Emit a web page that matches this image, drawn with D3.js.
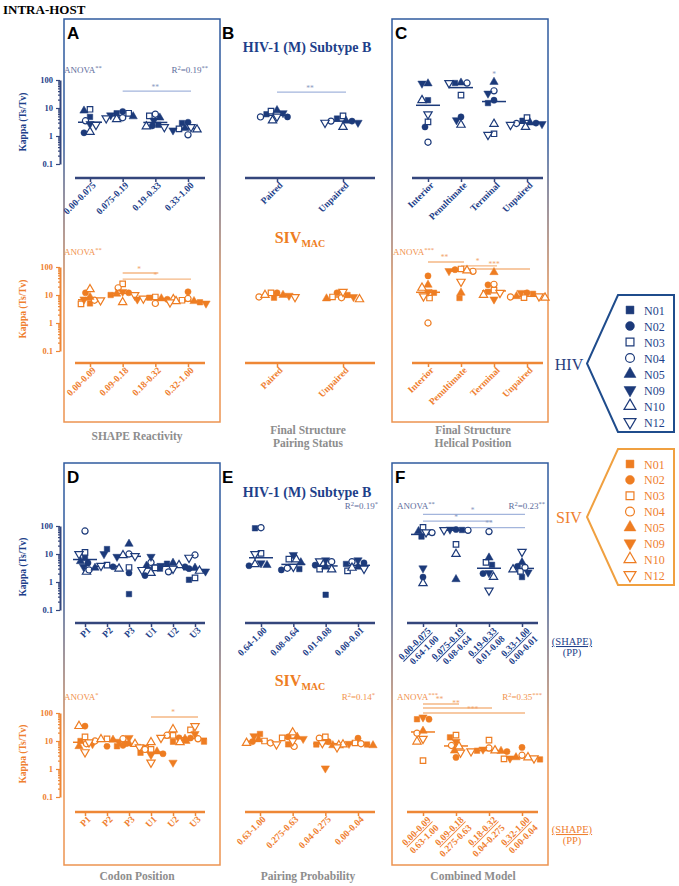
<!DOCTYPE html>
<html>
<head>
<meta charset="utf-8">
<script src="https://cdn.jsdelivr.net/npm/d3@7"></script>
<style>
  body { margin: 0; background: #fff; }
  svg { display: block; }
</style>
</head>
<body>
<svg id="chart" width="679" height="886"></svg>
<script>
// every group lists kappa per patient in this order
const patients = ["N01", "N02", "N03", "N04", "N05", "N09", "N10", "N12"];

// A - SHAPE reactivity
const hivShapeCats = ["0.00-0.075", "0.075-0.19", "0.19-0.33", "0.33-1.00"];
const hivShapeKappa = [
  [4.8, 1.3, 9, 3.5, 8, 2.7, 1.4, 2.5],
  [6.5, 7.5, 6.5, 4.5, 5, 5.5, 4, 4.3],
  [2.5, 2.3, 5.2, 6, 4.5, 3.6, 2.2, 2.1],
  [2.9, 3.1, 1.8, 1.1, 1.9, 1.6, 1.7, 2.1]
];
const sivShapeCats = ["0.00-0.09", "0.09-0.18", "0.18-0.32", "0.32-1.00"];
const sivShapeKappa = [
  [5, 12, 4.8, 6.5, 8.5, 7, 16, 6.5],
  [10, 12, 25, 18, 11, 13, 5.5, 10],
  [8, 7, 8.5, 5, 7.5, 7, 7, 7.5],
  [5.5, 13, 6.5, 7.5, 6, 5, 6, 5.5]
];

// B - pairing status
const pairCats = ["Paired", "Unpaired"];
const hivPairKappa = [
  [6, 4.8, 7.8, 4.8, 8.3, 6.6, 3.6, 5],
  [4.2, 3.4, 5.2, 3.4, 3.5, 3, 2.1, 3]
];
const sivPairKappa = [
  [8, 12, 12, 8.5, 10, 9.5, 10, 8.5],
  [10, 12, 8.5, 8, 7.5, 8.5, 7, 13]
];

// C - helical position
const helixCats = ["Interior", "Penultimate", "Terminal", "Unpaired"];
const hivHelixKappa = [
  [19, 2.1, 3.2, 0.6, 75, 75, 19, 6],
  [78, 4.8, 29, 78, 80, 3.7, 2.5, 78],
  [15, 19, 1.2, 41, 85, 33, 2.7, 1.1],
  [3.5, 2.9, 4.5, 2.8, 3, 2.7, 2.1, 2.5]
];
const sivHelixKappa = [
  [12, 48, 7.8, 1, 23, 13, 18, 9],
  [7.8, 80, 85, 70, 12, 72, 75, 30],
  [13, 23, 15, 24, 65, 7, 10, 12],
  [11, 12, 8, 8.5, 9, 12, 8, 9]
];

// D - codon position
const codonCats = ["P1", "P2", "P3", "U1", "U2", "U3"];
const hivCodonKappa = [
  [7.2, 4.8, 11.5, 66, 5.5, 3.5, 2.3, 10],
  [15, 3.5, 4, 2.7, 3.2, 10, 3, 3.8],
  [0.37, 2.1, 3.3, 10, 23, 8, 9, 8.5],
  [3, 1.7, 3.3, 5, 3.8, 8, 2.1, 2.7],
  [4.5, 3.5, 3.2, 2.3, 4.8, 3.8, 4, 3],
  [1.2, 3, 1.4, 9.2, 3.2, 2.4, 2.5, 7.4]
];
const sivCodonKappa = [
  [10, 34, 14, 8, 6.5, 7.8, 34, 4],
  [8, 6.5, 12, 10, 11, 9.5, 11.5, 9],
  [6.5, 7, 5.6, 12, 8, 13, 7.8, 6],
  [3.8, 3.5, 5, 5, 4.2, 3.2, 9, 1.7],
  [9.4, 13, 16, 16, 12, 1.7, 26, 13],
  [9.5, 12.8, 25, 12, 10, 18, 9, 34]
];

// E - pairing probability
const hivPpCats = ["0.64-1.00", "0.08-0.64", "0.01-0.08", "0.00-0.01"];
const hivPpKappa = [
  [83, 3.8, 10.6, 87, 4, 4.7, 4.3, 10],
  [2.9, 2.7, 6.6, 3.1, 5, 9.3, 6.4, 3.5],
  [0.35, 4, 2.9, 5.3, 3.5, 6, 2.8, 5.5],
  [4.4, 4.8, 2.5, 5.3, 3.5, 6, 3.2, 3]
];
const sivPpCats = ["0.63-1.00", "0.275-0.63", "0.04-0.275", "0.00-0.04"];
const sivPpKappa = [
  [17.8, 9.5, 10, 8.5, 11.5, 15, 8.5, 7.6],
  [7.6, 14, 13, 6.4, 14, 12, 20, 10],
  [7.5, 9.5, 14, 12.6, 7, 1.06, 7, 8.5],
  [7.5, 12.6, 8.5, 8, 7, 8, 7.5, 6]
];

// F - combined model (SHAPE bin over PP bin)
const hivCombKappa = [
  [42, 1.5, 90, 58, 65, 3.1, 0.9, 60],
  [72, 75, 22, 70, 1.25, 75, 10, 72],
  [4.1, 2, 5, 63, 7.4, 2.1, 1.5, 0.5],
  [1.5, 3.6, 2.4, 3.3, 5, 2.2, 2.8, 12]
];
const sivCombKappa = [
  [60, 60, 2, 19, 23, 70, 9.5, 12],
  [13.5, 2.6, 16.3, 6.9, 4.5, 9.5, 6.4, 3.9],
  [4.5, 4.2, 10.8, 5.6, 4.4, 5, 4.6, 4.3],
  [2.2, 5.9, 2.3, 3.1, 2.6, 2.4, 2.6, 2.4]
];

// significance brackets: category indices, kappa level of the bar, stars
const sigHivShape = [{ from: 1, to: 3, k: 40, label: "**" }];
const sigSivShape = [{ from: 1, to: 2, k: 61, label: "*" }, { from: 1, to: 3, k: 37, label: "*" }];
const sigHivPair = [{ from: 0, to: 1, k: 37, label: "**" }];
const sigHivHelix = [{ from: 2, to: 2, k: 110, label: "*" }];
const sigSivHelix = [{ from: 0, to: 1, k: 151, label: "**" }, { from: 1, to: 2, k: 109, label: "*" }, { from: 1, to: 3, k: 85, label: "***" }];
const sigSivCodon = [{ from: 3, to: 5, k: 72, label: "*" }];
const sigHivComb = [{ from: 0, to: 3, k: 260, label: "*" }, { from: 0, to: 2, k: 150, label: "*" }, { from: 1, to: 3, k: 88, label: "**" }];
const sigSivComb = [{ from: 0, to: 1, k: 210, label: "**" }, { from: 0, to: 2, k: 151, label: "**" }, { from: 0, to: 3, k: 100, label: "***" }];

// ---------------------------------------------------------------
const SERIF = '"Liberation Serif", "DejaVu Serif", serif';
const SANS = '"Liberation Sans", Arial, sans-serif';
const col = {
  hiv: { mark: "#1c3a7a", axis: "#34467c", text: "#1e3f8a", soft: "#a3b5dc", stat: "#5d6c9c", star: "#8b9bc2" },
  siv: { mark: "#ee7d22", axis: "#ee8736", text: "#ef8030", soft: "#f5b784", stat: "#f1924c", star: "#f2a56b" }
};

const svg = d3.select("#chart").style("font-family", SERIF);

const defs = svg.append("defs");
const grad = defs.append("linearGradient").attr("id", "boxGrad")
  .attr("x1", 0).attr("y1", 0).attr("x2", 0).attr("y2", 1);
grad.append("stop").attr("offset", "0.3").attr("stop-color", "#2f5a9e");
grad.append("stop").attr("offset", "0.7").attr("stop-color", "#ec9350");

svg.append("text").attr("x", 3).attr("y", 14)
  .attr("font-size", 13).attr("font-weight", "bold").text("INTRA-HOST");

// boxes around A, C, D, F
[[64, 19, 156, 403], [392, 19, 156, 403], [64, 463, 156, 402], [392, 463, 156, 402]].forEach(b => {
  svg.append("rect").attr("x", b[0]).attr("y", b[1]).attr("width", b[2]).attr("height", b[3])
    .attr("fill", "none").attr("stroke", "url(#boxGrad)").attr("stroke-width", 1.5);
});

[["A", 67, 39], ["B", 222, 39], ["C", 395, 39], ["D", 67, 483], ["E", 222, 483], ["F", 395, 483]].forEach(d => {
  svg.append("text").attr("x", d[1]).attr("y", d[2]).attr("font-family", SANS)
    .attr("font-size", 17).attr("font-weight", "bold").text(d[0]);
});

// rows of plots
const rows = {
  hivTop: { y100: 80, y01: 164, axis: 178, stat: 73 },
  sivTop: { y100: 267, y01: 351, axis: 363, stat: 255 },
  hivBot: { y100: 526, y01: 610, axis: 623, stat: 509 },
  sivBot: { y100: 713, y01: 797, axis: 812, stat: 700 }
};
Object.values(rows).forEach(r => {
  r.y = d3.scaleLog().domain([0.1, 100]).range([r.y01, r.y100]);
});

const symbolDefs = [
  { type: d3.symbolSquare, fill: true, rot: 0 },
  { type: d3.symbolCircle, fill: true, rot: 0 },
  { type: d3.symbolSquare, fill: false, rot: 0 },
  { type: d3.symbolCircle, fill: false, rot: 0 },
  { type: d3.symbolTriangle, fill: true, rot: 0 },
  { type: d3.symbolTriangle, fill: true, rot: 180 },
  { type: d3.symbolTriangle, fill: false, rot: 0 },
  { type: d3.symbolTriangle, fill: false, rot: 180 }
];

function drawMarker(g, idx, x, y, size, color) {
  const s = symbolDefs[idx];
  g.append("path")
    .attr("d", d3.symbol(s.type, size)())
    .attr("transform", `translate(${x},${y}) rotate(${s.rot})`)
    .attr("fill", s.fill ? color : "#fff")
    .attr("stroke", color)
    .attr("stroke-width", s.fill ? 0.5 : 1.2);
}

// simple beeswarm, points may overlap a little like the prism plot
function swarm(values, xc, y, r) {
  const pts = values.map((v, i) => ({ v, i, y: y(v) }));
  const placed = [];
  pts.slice().sort((a, b) => a.y - b.y).forEach(p => {
    p.x = xc;
    for (let k = 0; k < 60; k++) {
      const off = k === 0 ? 0 : (k % 2 ? -1 : 1) * Math.ceil(k / 2) * 1.5;
      const ok = placed.every(q => (q.x - (xc + off)) ** 2 + (q.y - p.y) ** 2 >= (2 * r) ** 2);
      if (ok) { p.x = xc + off; break; }
    }
    placed.push(p);
  });
  return pts;
}

function yAxis(row, x, c) {
  const g = svg.append("g").attr("transform", `translate(${x},0)`);
  g.call(d3.axisLeft(row.y).tickValues([0.1, 1, 10, 100]).tickFormat(d => String(d)).tickSize(4).tickSizeOuter(0));
  const minor = row.y.ticks().filter(t => ![0.1, 1, 10, 100].includes(t));
  g.append("g").call(d3.axisLeft(row.y).tickValues(minor).tickSize(2).tickFormat(""))
    .select(".domain").remove();
  g.selectAll("path, line").attr("stroke", c.axis);
  g.select(".domain").attr("stroke-width", 2);
  g.selectAll("line").attr("stroke-width", 1.2);
  g.selectAll("text").attr("fill", c.text).attr("font-family", SERIF)
    .attr("font-weight", "bold").attr("font-size", 8.5);
}

function kappaLabel(x, yc, c) {
  svg.append("text").attr("transform", `translate(${x},${yc}) rotate(-90)`)
    .attr("text-anchor", "middle").attr("font-size", 9.5).attr("font-weight", "bold")
    .attr("fill", c.text).text("Kappa (Ts/Tv)");
}

function statText(x, y, anchor, parts, color) {
  const t = svg.append("text").attr("x", x).attr("y", y).attr("text-anchor", anchor)
    .attr("font-size", 9).attr("fill", color);
  parts.forEach(p => {
    const ts = t.append("tspan").text(p[0]);
    if (p[1]) ts.attr("font-size", 6.5).attr("baseline-shift", "super");
  });
}

function panel(p) {
  const c = col[p.virus];
  const row = rows[p.row];
  const x = d3.scalePoint().domain(d3.range(p.kappa.length)).range(p.range);
  const g = svg.append("g");

  // x axis
  g.append("line").attr("x1", p.ext[0]).attr("x2", p.ext[1])
    .attr("y1", row.axis).attr("y2", row.axis)
    .attr("stroke", c.axis).attr("stroke-width", 2.5);
  const ax = g.append("g").attr("transform", `translate(0,${row.axis})`)
    .call(d3.axisBottom(x).tickSize(4).tickSizeOuter(0).tickFormat(""));
  ax.select(".domain").remove();
  ax.selectAll("line").attr("stroke", c.axis).attr("stroke-width", 1.5);

  p.labels.forEach((lab, i) => {
    const t = g.append("text")
      .attr("transform", `translate(${x(i)},${row.axis}) rotate(-45)`)
      .attr("text-anchor", "end").attr("font-size", 9.5).attr("font-weight", "bold")
      .attr("fill", c.text);
    if (Array.isArray(lab)) {
      t.append("tspan").attr("x", 0).attr("y", 12).attr("text-decoration", "underline").text(lab[0]);
      t.append("tspan").attr("x", 0).attr("y", 23).text(lab[1]);
    } else {
      t.attr("x", -1).attr("y", 10).text(lab);
    }
  });

  // significance bars
  (p.sig || []).forEach(s => {
    const yb = row.y(s.k);
    if (s.from !== s.to) {
      g.append("line").attr("x1", x(s.from)).attr("x2", x(s.to) + 3)
        .attr("y1", yb).attr("y2", yb).attr("stroke", c.soft).attr("stroke-width", 1.3);
    }
    g.append("text").attr("x", (x(s.from) + x(s.to)) / 2).attr("y", yb - 1.5)
      .attr("text-anchor", "middle").attr("font-size", 7.5).attr("fill", c.star).text(s.label);
  });

  // points and medians
  p.kappa.forEach((vals, ci) => {
    const xc = x(ci);
    const med = d3.median(vals);
    g.append("line").attr("x1", xc - 12).attr("x2", xc + 12)
      .attr("y1", row.y(med)).attr("y2", row.y(med))
      .attr("stroke", c.mark).attr("stroke-width", 1.5);
    swarm(vals, xc, row.y, 2.7).forEach(pt => drawMarker(g, pt.i, pt.x, pt.y, 30, c.mark));
  });

  if (p.anova) statText(p.anovaX, row.stat, "start", [["ANOVA", 0], [p.anova, 1]], c.stat);
  if (p.r2) statText(p.r2X, row.stat, "end", [["R", 0], ["2", 1], ["=" + p.r2[0], 0], [p.r2[1], 1]], c.stat);
}

// HIV / SIV rows, top half
panel({ virus: "hiv", row: "hivTop", kappa: hivShapeKappa, labels: hivShapeCats, range: [90, 188], ext: [75, 205],
  sig: sigHivShape, anova: "**", anovaX: 64, r2: ["0.19", "**"], r2X: 208 });
panel({ virus: "hiv", row: "hivTop", kappa: hivPairKappa, labels: pairCats, range: [277, 343], ext: [245, 375],
  sig: sigHivPair });
panel({ virus: "hiv", row: "hivTop", kappa: hivHelixKappa, labels: helixCats, range: [428, 527], ext: [412, 543],
  sig: sigHivHelix });
panel({ virus: "siv", row: "sivTop", kappa: sivShapeKappa, labels: sivShapeCats, range: [90, 188], ext: [75, 205],
  sig: sigSivShape, anova: "**", anovaX: 64 });
panel({ virus: "siv", row: "sivTop", kappa: sivPairKappa, labels: pairCats, range: [277, 343], ext: [245, 375] });
panel({ virus: "siv", row: "sivTop", kappa: sivHelixKappa, labels: helixCats, range: [428, 527], ext: [412, 543],
  sig: sigSivHelix, anova: "***", anovaX: 393 });

// bottom half
panel({ virus: "hiv", row: "hivBot", kappa: hivCodonKappa, labels: codonCats, range: [85, 195], ext: [75, 205] });
panel({ virus: "hiv", row: "hivBot", kappa: hivPpKappa, labels: hivPpCats, range: [261, 358], ext: [245, 375],
  r2: ["0.19", "*"], r2X: 378 });
panel({ virus: "hiv", row: "hivBot", kappa: hivCombKappa, labels: hivShapeCats.map((s, i) => [s, hivPpCats[i]]),
  range: [423, 522], ext: [407, 538], sig: sigHivComb, anova: "**", anovaX: 397, r2: ["0.23", "**"], r2X: 545 });
panel({ virus: "siv", row: "sivBot", kappa: sivCodonKappa, labels: codonCats, range: [85, 195], ext: [75, 205],
  sig: sigSivCodon, anova: "*", anovaX: 64 });
panel({ virus: "siv", row: "sivBot", kappa: sivPpKappa, labels: sivPpCats, range: [260, 358], ext: [245, 375],
  r2: ["0.14", "*"], r2X: 375 });
panel({ virus: "siv", row: "sivBot", kappa: sivCombKappa, labels: sivShapeCats.map((s, i) => [s, sivPpCats[i]]),
  range: [423, 522], ext: [407, 538], sig: sigSivComb, anova: "***", anovaX: 397, r2: ["0.35", "***"], r2X: 542 });

// y axes
yAxis(rows.hivTop, 60, col.hiv); kappaLabel(26, 122, col.hiv);
yAxis(rows.sivTop, 60, col.siv); kappaLabel(26, 309, col.siv);
yAxis(rows.hivBot, 60, col.hiv); kappaLabel(26, 567, col.hiv);
yAxis(rows.sivBot, 60, col.siv); kappaLabel(26, 754, col.siv);

// virus titles
function hivTitle(y) {
  svg.append("text").attr("x", 307).attr("y", y).attr("text-anchor", "middle")
    .attr("font-size", 14).attr("font-weight", "bold").attr("fill", col.hiv.text)
    .text("HIV-1 (M) Subtype B");
}
function sivTitle(y) {
  const t = svg.append("text").attr("x", 300).attr("y", y).attr("text-anchor", "middle")
    .attr("font-size", 16).attr("font-weight", "bold").attr("fill", col.siv.mark);
  t.append("tspan").text("SIV");
  t.append("tspan").attr("font-size", 10).attr("dy", 4).text("MAC");
}
hivTitle(52); sivTitle(243);
hivTitle(497); sivTitle(686);

// panel captions
const grey = "#8d8d8d";
function caption(x, y, lines) {
  lines.forEach((l, i) => svg.append("text").attr("x", x).attr("y", y + i * 13)
    .attr("text-anchor", "middle").attr("font-size", 11.5).attr("font-weight", "bold")
    .attr("fill", grey).text(l));
}
caption(137, 440, ["SHAPE Reactivity"]);
caption(308, 434, ["Final Structure", "Pairing Status"]);
caption(473, 434, ["Final Structure", "Helical Position"]);
caption(137, 880, ["Codon Position"]);
caption(308, 880, ["Pairing Probability"]);
caption(473, 880, ["Combined Model"]);

// (SHAPE)/(PP) keys for panel F
[[645, col.hiv.text], [833, col.siv.text]].forEach(d => {
  svg.append("text").attr("x", 572).attr("y", d[0]).attr("text-anchor", "middle")
    .attr("font-size", 10.5).attr("fill", d[1]).attr("text-decoration", "underline").text("(SHAPE)");
  svg.append("text").attr("x", 572).attr("y", d[0] + 11).attr("text-anchor", "middle")
    .attr("font-size", 10.5).attr("fill", d[1]).text("(PP)");
});

// legends
function legend(virus, top, bottom, label) {
  const c = col[virus];
  const mid = (top + bottom) / 2;
  const strokeCol = virus === "hiv" ? "#1f4c8c" : "#f0a040";
  svg.append("path")
    .attr("d", `M618,${top} L674,${top} L674,${bottom} L618,${bottom} L587,${mid} Z`)
    .attr("fill", "none").attr("stroke", strokeCol).attr("stroke-width", 2);
  svg.append("text").attr("x", 569).attr("y", mid + 6).attr("text-anchor", "middle")
    .attr("font-size", 16).attr("fill", virus === "hiv" ? "#2a3f7e" : "#ef8030").text(label);
  const ly = d3.scalePoint().domain(patients).range([top + 15, bottom - 10]);
  patients.forEach((p, i) => {
    drawMarker(svg, i, 630, ly(p), 62, c.mark);
    svg.append("text").attr("x", 644).attr("y", ly(p) + 4.5)
      .attr("font-size", 12).attr("fill", c.text).text(p);
  });
}
legend("hiv", 295, 432, "HIV");
legend("siv", 449, 585, "SIV");
</script>
</body>
</html>
